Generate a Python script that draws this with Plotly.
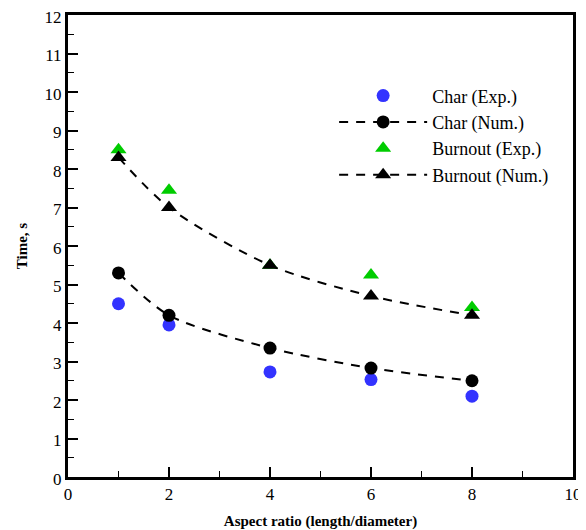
import plotly.graph_objects as go

x_vals = [1, 2, 4, 6, 8]
char_exp = [4.5, 3.95, 2.73, 2.53, 2.1]
char_num = [5.3, 4.2, 3.35, 2.83, 2.5]
burn_exp = [8.5, 7.45, 5.5, 5.25, 4.4]
burn_num = [8.3, 7.0, 5.5, 4.7, 4.2]

FONT = "Liberation Serif, Times New Roman, DejaVu Serif, serif"

fig = go.Figure()
fig.add_trace(go.Scatter(x=x_vals, y=char_exp, mode="markers", name="Char (Exp.)",
                         marker=dict(symbol="circle", size=13, color="#3333ff")))
fig.add_trace(go.Scatter(x=x_vals, y=char_num, mode="lines+markers", name="Char (Num.)",
                         line=dict(color="black", width=2, dash="9px,8px", shape="spline", smoothing=0.8),
                         marker=dict(symbol="circle", size=13, color="black")))
fig.add_trace(go.Scatter(x=x_vals, y=burn_exp, mode="markers", name="Burnout (Exp.)",
                         marker=dict(symbol="triangle-up", size=14, color="#00cc00")))
fig.add_trace(go.Scatter(x=x_vals, y=burn_num, mode="lines+markers", name="Burnout (Num.)",
                         line=dict(color="black", width=2, dash="9px,8px", shape="spline", smoothing=0.8),
                         marker=dict(symbol="triangle-up", size=14, color="black")))

axis_common = dict(
    showgrid=False, zeroline=False, showline=True, linecolor="black", linewidth=3,
    mirror=True, ticks="inside", ticklen=10, tickwidth=2, tickcolor="black",
    tickfont=dict(family=FONT, size=17, color="black"), automargin=False,
    ticklabeloverflow="allow",
)

fig.update_xaxes(range=[0, 10], dtick=2, title=dict(text="<b>Aspect ratio (length/diameter)</b>",
                 font=dict(family=FONT, size=15, color="black"), standoff=14),
                 minor=dict(ticks="inside", ticklen=6, tickwidth=1, tickcolor="black", dtick=1),
                 **axis_common)
fig.update_yaxes(range=[0, 12], dtick=1, title=dict(text="<b>Time, s</b>",
                 font=dict(family=FONT, size=15, color="black"), standoff=14),
                 minor=dict(ticks="inside", ticklen=6, tickwidth=1, tickcolor="black", dtick=0.5),
                 ticklabelshift=2,
                 **axis_common)

fig.update_layout(
    width=578, height=522,
    margin=dict(l=60, r=13, t=7, b=53),
    plot_bgcolor="white", paper_bgcolor="white",
    font=dict(family=FONT, color="black"),
    legend=dict(x=0.527, y=0.865, xanchor="left", yanchor="top",
                font=dict(family=FONT, size=18, color="black"),
                itemwidth=88, bgcolor="rgba(0,0,0,0)", tracegroupgap=0),
)

fig.write_html("out.html")
